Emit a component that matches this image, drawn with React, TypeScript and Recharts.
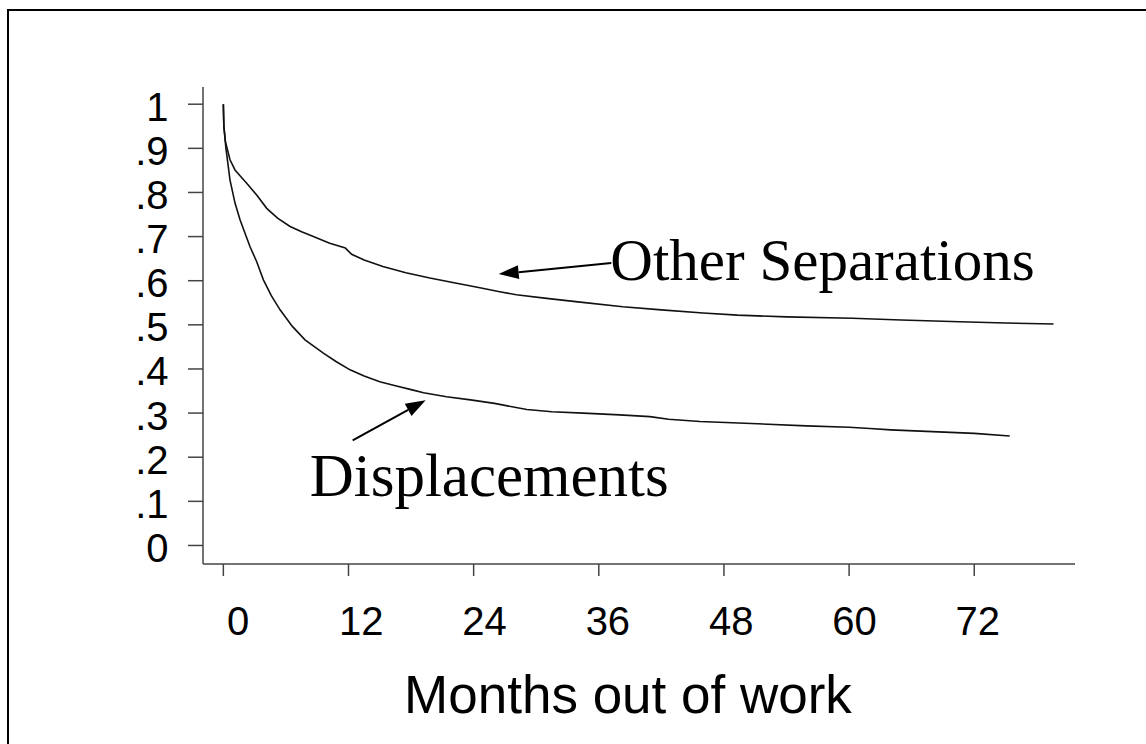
import React from 'react';
import { LineChart, Line, XAxis, YAxis, ReferenceLine } from 'recharts';

// ---- data ----
const otherMonths = [0, 0.05, 0.2, 0.64, 1.12, 1.6, 2.24, 3.2, 4.16, 5.2, 6.4, 7.5, 8.63, 10.2, 11.7, 12.3, 13.5, 15.3, 17.5, 19.8, 22, 24.6, 26.5, 28.1, 31, 34, 38.3, 42, 46, 49.3, 54, 60.3, 65, 70.6, 75, 79.6];
const otherValues = [1.0, 0.95, 0.915, 0.874, 0.851, 0.838, 0.821, 0.794, 0.764, 0.742, 0.723, 0.711, 0.7, 0.685, 0.674, 0.66, 0.647, 0.632, 0.618, 0.606, 0.596, 0.584, 0.575, 0.568, 0.56, 0.552, 0.541, 0.534, 0.527, 0.522, 0.518, 0.515, 0.511, 0.507, 0.504, 0.502];

const dispMonths = [0, 0.05, 0.25, 0.64, 1.12, 1.6, 2.56, 3.2, 3.84, 4.6, 5.44, 6.6, 7.83, 9.59, 10.8, 12.15, 13.5, 15, 16.5, 18.2, 19.2, 21.4, 23.7, 26, 29.1, 31.5, 34.5, 38, 40.9, 42.7, 45.7, 50, 55.9, 60, 62, 64, 68, 72, 75.4];
const dispValues = [1.0, 0.95, 0.9, 0.828, 0.776, 0.738, 0.677, 0.643, 0.602, 0.566, 0.534, 0.497, 0.466, 0.436, 0.417, 0.398, 0.384, 0.371, 0.362, 0.352, 0.346, 0.337, 0.33, 0.322, 0.308, 0.303, 0.3, 0.296, 0.292, 0.286, 0.281, 0.277, 0.271, 0.268, 0.265, 0.262, 0.258, 0.254, 0.248];

const xTicks = [0, 12, 24, 36, 48, 60, 72];
const yTicks = [0, 0.1, 0.2, 0.3, 0.4, 0.5, 0.6, 0.7, 0.8, 0.9, 1];
const yTickLabels = ['0', '.1', '.2', '.3', '.4', '.5', '.6', '.7', '.8', '.9', '1'];

const xTitle = 'Months out of work';
const otherLabel = 'Other Separations';
const dispLabel = 'Displacements';

// annotation arrows: [tail, head] in data coordinates
const otherArrow = [{ x: 37.2, y: 0.64 }, { x: 26.4, y: 0.615 }];
const dispArrow = [{ x: 12.4, y: 0.238 }, { x: 19.4, y: 0.329 }];

const otherData = otherMonths.map((m, i) => ({ m, v: otherValues[i] }));
const dispData = dispMonths.map((m, i) => ({ m, v: dispValues[i] }));

const SANS = '"Liberation Sans", Arial, sans-serif';
const SERIF = '"Liberation Serif", "Times New Roman", serif';
const AXIS_COLOR = '#444';

const XTick = (props: any) => {
  const { x, y, payload } = props;
  const v = payload.value as number;
  const shift = 14.7 - 0.156 * v;
  return (
    <text x={x + shift} y={y} dy={59} textAnchor="middle" fontFamily={SANS} fontSize={40} fill="#000">
      {String(v)}
    </text>
  );
};

const YTick = (props: any) => {
  const { x, y, payload } = props;
  const idx = yTicks.findIndex((t) => Math.abs(t - payload.value) < 1e-9);
  return (
    <text x={x - 19.5} y={y} dy={16.5} textAnchor="end" fontFamily={SANS} fontSize={40} fill="#000">
      {idx >= 0 ? yTickLabels[idx] : ''}
    </text>
  );
};

const XTitle = (props: any) => {
  const vb = props.viewBox || {};
  return (
    <text x={vb.x + vb.width / 2 - 11} y={vb.y + 149} textAnchor="middle" fontFamily={SANS} fontSize={53} fill="#000">
      {xTitle}
    </text>
  );
};

const makeArrow = (label: string, tdx: number, tdy: number, fs: number) => (p: any) => {
  const { x1, y1, x2, y2 } = p;
  const ang = Math.atan2(y2 - y1, x2 - x1);
  const len = 20;
  const hw = 7;
  const bx = x2 - len * Math.cos(ang);
  const by = y2 - len * Math.sin(ang);
  const nx = -Math.sin(ang);
  const ny = Math.cos(ang);
  const pts = `${x2},${y2} ${bx + hw * nx},${by + hw * ny} ${bx - hw * nx},${by - hw * ny}`;
  return (
    <g>
      <line x1={x1} y1={y1} x2={bx} y2={by} stroke="#000" strokeWidth={2} />
      <polygon points={pts} fill="#000" />
      <text x={x1 + tdx} y={y1 + tdy} fontFamily={SERIF} fontSize={fs} fill="#000">
        {label}
      </text>
    </g>
  );
};

export default function App() {
  return (
    <div style={{ position: 'absolute', left: 0, top: 0, width: 1146, height: 744, overflow: 'hidden', background: '#fff' }}>
      <div
        style={{
          position: 'absolute',
          left: 7,
          top: 9,
          width: 1139,
          height: 735,
          borderTop: '2px solid #000',
          borderLeft: '2px solid #000',
          boxSizing: 'border-box',
        }}
      />
      <div style={{ position: 'absolute', left: 0, top: 0 }}>
        <LineChart width={1146} height={744} margin={{ top: 87, right: 71, bottom: 0, left: 0 }}>
          <XAxis
            type="number"
            dataKey="m"
            domain={[-1.95, 81.66]}
            ticks={xTicks}
            allowDataOverflow
            height={180}
            tickSize={12}
            tickMargin={0}
            stroke={AXIS_COLOR}
            strokeWidth={1.5}
            tick={<XTick />}
            tickLine={{ stroke: AXIS_COLOR, strokeWidth: 1.5 }}
            label={XTitle}
          />
          <YAxis
            type="number"
            domain={[-0.042, 1.039]}
            ticks={yTicks}
            allowDataOverflow
            width={203}
            tickSize={15}
            tickMargin={0}
            stroke={AXIS_COLOR}
            strokeWidth={1.5}
            tick={<YTick />}
            tickLine={{ stroke: AXIS_COLOR, strokeWidth: 1.5 }}
          />
          <Line data={otherData} dataKey="v" type="linear" stroke="#111" strokeWidth={1.6} dot={false} isAnimationActive={false} />
          <Line data={dispData} dataKey="v" type="linear" stroke="#111" strokeWidth={1.6} dot={false} isAnimationActive={false} />
          <ReferenceLine segment={otherArrow} shape={makeArrow(otherLabel, -1, 17, 59)} ifOverflow="visible" />
          <ReferenceLine segment={dispArrow} shape={makeArrow(dispLabel, -43, 56, 61)} ifOverflow="visible" />
        </LineChart>
      </div>
    </div>
  );
}
